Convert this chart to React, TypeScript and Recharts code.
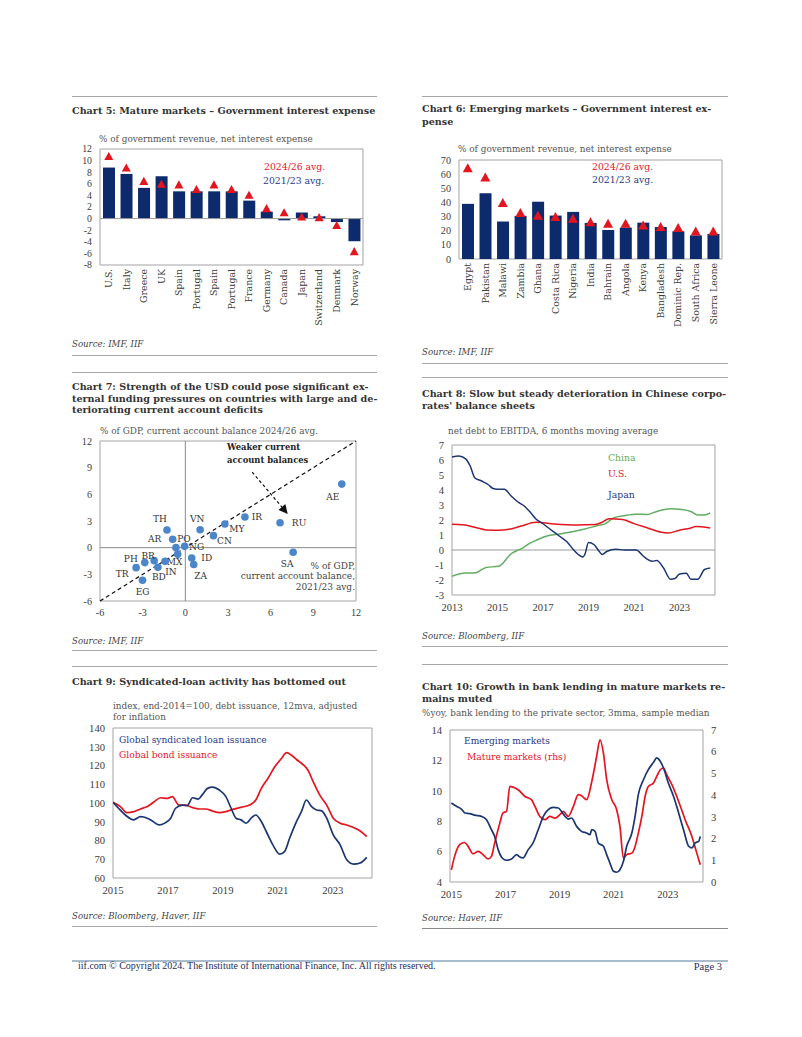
import React from 'react';
import {
  ComposedChart, Bar, Line, XAxis, YAxis, ReferenceLine, ReferenceArea,
  ScatterChart, Scatter, LineChart,
} from 'recharts';

// ---- Chart 5: mature markets, % of government revenue
const c5Countries = ['U.S.', 'Italy', 'Greece', 'UK', 'Spain', 'Portugal', 'Spain', 'Portugal', 'France', 'Germany', 'Canada', 'Japan', 'Switzerland', 'Denmark', 'Norway'];
const c5Avg2123 = [8.8, 7.7, 5.3, 7.3, 4.7, 4.7, 4.7, 4.7, 3.1, 1.2, -0.3, 1.05, 0.4, -0.6, -3.9];
const c5Avg2426 = [10.8, 8.8, 6.5, 6.0, 5.9, 5.1, 5.9, 5.1, 4.1, 1.8, 1.1, 0.35, 0.25, -1.1, -5.6];
const c5Ticks = [-8, -6, -4, -2, 0, 2, 4, 6, 8, 10, 12];

// ---- Chart 6: emerging markets
const c6Countries = ['Egypt', 'Pakistan', 'Malawi', 'Zambia', 'Ghana', 'Costa Rica', 'Nigeria', 'India', 'Bahrain', 'Angola', 'Kenya', 'Bangladesh', 'Dominic Rep.', 'South Africa', 'Sierra Leone'];
const c6Avg2123 = [39, 46.5, 26.5, 30.5, 40.5, 30.7, 33.3, 25.5, 20.5, 22.2, 25.7, 22.6, 19.6, 16.7, 17.7];
const c6Avg2426 = [64.5, 58, 40, 32.8, 31, 30, 28.8, 26.4, 25.2, 25.2, 24.1, 22.9, 22.2, 19.8, 19.8];
const c6Ticks = [0, 10, 20, 30, 40, 50, 60, 70];

// ---- Chart 7: current account balances
const c7Names = ['AE', 'RU', 'IR', 'MY', 'CN', 'VN', 'TH', 'AR', 'PO', 'NG', 'MX', 'ID', 'ZA', 'IN', 'BD', 'BR', 'PH', 'TR', 'EG', 'SA'];
const c7Avg2123 = [11.0, 6.66, 4.19, 2.78, 1.98, 1.04, -1.29, -0.89, -0.66, -0.05, -0.54, 0.45, 0.59, -1.43, -1.93, -2.19, -2.85, -3.46, -3.01, 7.58];
const c7Avg2426 = [7.15, 2.81, 3.45, 2.66, 1.35, 2.02, 1.99, 0.94, 0.0, 0.15, -0.75, -1.16, -1.9, -1.54, -2.2, -1.46, -1.68, -2.25, -3.67, -0.52];
const c7Ticks = [-6, -3, 0, 3, 6, 9, 12];
const c7LabelOffsets: Record<string, [number, number]> = {
  AE: [-9, 13], RU: [19, 0], IR: [12, 0], MY: [12, 5], CN: [11, 5], VN: [-3, -11],
  TH: [-7, -11], AR: [-18, 0], PO: [8, -9], NG: [12, 1], MX: [-3, 8], ID: [15, 0],
  ZA: [7, 11], IN: [6, 11], BD: [1, 10], BR: [-6, -5], PH: [-14, -4], TR: [-14, 6],
  EG: [0, 12], SA: [-6, 12],
};

// ---- Chart 8: net debt to EBITDA
const c8JapanT = [2013.0, 2013.3, 2013.6, 2013.8, 2014.0, 2014.3, 2014.6, 2014.8, 2015.0, 2015.3, 2015.6, 2015.9, 2016.2, 2016.45, 2016.7, 2016.95, 2017.3, 2017.7, 2018.05, 2018.35, 2018.55, 2018.75, 2018.85, 2019.0, 2019.25, 2019.45, 2019.6, 2019.8, 2020.2, 2020.6, 2021.1, 2021.4, 2021.8, 2022.0, 2022.3, 2022.6, 2022.8, 2023.0, 2023.3, 2023.5, 2023.8, 2024.1, 2024.35];
const c8Japan = [6.2, 6.27, 6.08, 5.6, 4.82, 4.6, 4.35, 4.1, 4.05, 4.05, 3.6, 3.2, 2.9, 2.5, 2.05, 1.8, 1.4, 0.95, 0.55, 0.0, -0.3, -0.47, -0.25, 0.5, 0.35, -0.05, -0.3, -0.1, 0.05, 0.0, 0.0, -0.4, -0.75, -0.7, -1.2, -1.95, -1.9, -1.6, -1.55, -1.95, -1.95, -1.3, -1.2];
const c8UsT = [2013.0, 2013.5, 2014.0, 2014.5, 2015.05, 2015.5, 2016.0, 2016.7, 2017.5, 2018.5, 2019.3, 2019.6, 2019.9, 2020.5, 2021.0, 2021.6, 2022.2, 2022.5, 2023.0, 2023.5, 2023.7, 2024.35];
const c8Us = [1.72, 1.68, 1.52, 1.34, 1.32, 1.38, 1.58, 1.85, 1.74, 1.67, 1.7, 1.85, 2.08, 2.03, 1.76, 1.47, 1.18, 1.14, 1.32, 1.47, 1.56, 1.47];
const c8ChinaT = [2013.0, 2013.6, 2014.0, 2014.5, 2015.05, 2015.6, 2016.1, 2016.45, 2016.7, 2017.25, 2017.8, 2018.4, 2018.85, 2019.4, 2019.75, 2020.1, 2020.6, 2021.1, 2021.6, 2021.9, 2022.6, 2023.1, 2023.5, 2023.8, 2024.1, 2024.35];
const c8China = [-1.76, -1.54, -1.54, -1.16, -1.09, -0.25, 0.13, 0.47, 0.65, 0.96, 1.09, 1.25, 1.4, 1.63, 1.76, 2.14, 2.3, 2.39, 2.37, 2.52, 2.75, 2.7, 2.57, 2.34, 2.34, 2.48];
const c8Years = [2013, 2015, 2017, 2019, 2021, 2023];
const c8Ticks = [-3, -2, -1, 0, 1, 2, 3, 4, 5, 6, 7];

// ---- Chart 9: debt issuance index
const c9LoanT = [2015.0, 2015.2, 2015.45, 2015.75, 2016.0, 2016.25, 2016.43, 2016.67, 2016.9, 2017.1, 2017.28, 2017.53, 2017.7, 2017.9, 2018.1, 2018.26, 2018.44, 2018.63, 2018.87, 2019.11, 2019.3, 2019.48, 2019.66, 2019.85, 2020.03, 2020.2, 2020.4, 2020.58, 2020.82, 2021.07, 2021.25, 2021.43, 2021.68, 2021.86, 2022.04, 2022.23, 2022.41, 2022.6, 2022.78, 2023.02, 2023.27, 2023.51, 2023.76, 2024.0, 2024.24];
const c9Loan = [100.4, 97.2, 93.6, 91.0, 92.7, 91.9, 90.4, 88.3, 89.4, 91.9, 97.2, 98.9, 98.6, 102.8, 102.1, 104.6, 107.8, 108.5, 106.9, 103.4, 97.2, 91.9, 91.0, 89.2, 91.9, 93.6, 90.1, 84.8, 77.7, 72.7, 74.2, 81.2, 90.1, 95.4, 101.6, 98.1, 96.3, 95.8, 91.9, 83.0, 77.7, 69.7, 67.4, 68.0, 71.0];
const c9BondT = [2015.0, 2015.27, 2015.5, 2015.76, 2016.0, 2016.25, 2016.5, 2016.73, 2016.98, 2017.16, 2017.4, 2017.65, 2017.9, 2018.14, 2018.38, 2018.63, 2018.87, 2019.11, 2019.36, 2019.66, 2019.97, 2020.2, 2020.4, 2020.64, 2020.89, 2021.13, 2021.32, 2021.5, 2021.68, 2021.92, 2022.1, 2022.29, 2022.53, 2022.78, 2023.02, 2023.27, 2023.51, 2023.76, 2024.0, 2024.24];
const c9Bond = [100.4, 98.1, 94.9, 95.4, 96.8, 98.1, 100.7, 102.8, 102.5, 103.4, 98.9, 98.9, 97.5, 96.8, 96.8, 95.7, 94.9, 95.4, 96.6, 97.7, 98.9, 101.6, 107.8, 113.1, 119.3, 123.7, 126.9, 125.5, 123.2, 120.5, 117.5, 111.3, 104.2, 98.9, 91.9, 89.2, 88.3, 86.9, 85.1, 82.1];
const c9Years = [2015, 2017, 2019, 2021, 2023];
const c9Ticks = [60, 70, 80, 90, 100, 110, 120, 130, 140];

// ---- Chart 10: bank lending growth
const c10EmT = [2015.0, 2015.19, 2015.37, 2015.5, 2015.68, 2015.86, 2016.11, 2016.3, 2016.48, 2016.6, 2016.73, 2016.88, 2017.04, 2017.22, 2017.41, 2017.53, 2017.65, 2017.84, 2018.02, 2018.21, 2018.4, 2018.58, 2018.77, 2018.95, 2019.2, 2019.32, 2019.44, 2019.63, 2019.81, 2020.0, 2020.12, 2020.19, 2020.31, 2020.43, 2020.62, 2020.74, 2020.86, 2020.99, 2021.11, 2021.23, 2021.36, 2021.48, 2021.67, 2021.79, 2021.91, 2022.1, 2022.28, 2022.47, 2022.59, 2022.72, 2022.84, 2023.02, 2023.21, 2023.4, 2023.58, 2023.77, 2023.89, 2024.01, 2024.14, 2024.2];
const c10Em = [9.2, 8.98, 8.8, 8.54, 8.5, 8.4, 8.32, 8.1, 7.44, 7.0, 6.13, 5.58, 5.43, 5.51, 5.8, 5.64, 5.58, 6.13, 6.57, 7.44, 8.32, 8.76, 8.91, 8.87, 8.32, 8.14, 8.21, 7.66, 7.33, 7.22, 7.11, 7.44, 7.33, 6.57, 6.35, 5.8, 5.25, 4.7, 4.64, 4.81, 5.36, 6.35, 7.22, 8.32, 9.75, 10.73, 11.39, 11.87, 12.16, 11.94, 11.5, 10.51, 9.64, 8.54, 7.44, 6.35, 6.24, 6.57, 6.68, 7.0];
const c10MmT = [2015.0, 2015.12, 2015.31, 2015.49, 2015.62, 2015.8, 2015.99, 2016.17, 2016.36, 2016.48, 2016.6, 2016.79, 2016.91, 2017.04, 2017.16, 2017.28, 2017.47, 2017.72, 2017.96, 2018.09, 2018.27, 2018.46, 2018.64, 2018.83, 2019.01, 2019.14, 2019.32, 2019.51, 2019.69, 2019.81, 2020.0, 2020.19, 2020.37, 2020.49, 2020.62, 2020.74, 2020.93, 2021.11, 2021.23, 2021.36, 2021.48, 2021.67, 2021.79, 2021.91, 2022.04, 2022.16, 2022.28, 2022.47, 2022.59, 2022.72, 2022.84, 2022.96, 2023.15, 2023.4, 2023.64, 2023.89, 2024.07, 2024.2];
const c10Mm = [0.56, 1.18, 1.72, 1.82, 1.64, 1.3, 1.41, 1.26, 1.06, 1.18, 1.79, 2.71, 3.18, 3.25, 4.4, 4.37, 4.25, 3.94, 3.79, 3.48, 3.02, 2.87, 3.02, 2.94, 3.1, 3.25, 3.02, 3.48, 4.02, 3.97, 3.79, 4.63, 5.79, 6.55, 5.94, 4.71, 3.79, 3.33, 2.56, 1.1, 1.26, 1.33, 1.64, 2.25, 3.02, 3.94, 4.4, 4.56, 4.86, 5.17, 5.25, 4.94, 4.48, 3.71, 2.87, 2.1, 1.33, 0.79];
const c10Years = [2015, 2017, 2019, 2021, 2023];
const c10LeftTicks = [4, 6, 8, 10, 12, 14];
const c10RightTicks = [0, 1, 2, 3, 4, 5, 6, 7];

// ---- look
const SERIF = '"DejaVu Serif", Georgia, serif';
const NUM = '"Liberation Serif", "Times New Roman", serif';
const NAVY = '#0c2a6c';
const TEXT_NAVY = '#1d3a86';
const LINE_NAVY = '#1b3670';
const RED = '#e3151f';
const GREEN = '#62ad62';
const DOT = '#4a86c8';
const BOX = '#a3a3a3';
const TICK = '#3c3c3c';
const RULE = '#a8a8a8';

const pairs = (t: number[], v: number[]) => t.map((x, i) => ({ t: x, v: v[i] }));

function T({ x, y, size = 9.6, color = '#333', bold, italic, align = 'left', font = SERIF, children }: any) {
  const style: React.CSSProperties = {
    position: 'absolute', top: y - size * 0.6, fontSize: size, lineHeight: `${size}px`,
    color, fontWeight: bold ? 'bold' : 'normal', fontStyle: italic ? 'italic' : 'normal',
    whiteSpace: 'nowrap', fontFamily: font,
  };
  if (align === 'right') style.right = 802 - x; else style.left = x;
  return <div style={style}>{children}</div>;
}

function Rule({ x1, x2, y, color = RULE, w = 1.5 }: any) {
  return <div style={{ position: 'absolute', left: x1, top: y - w / 2, width: x2 - x1, height: 0, borderTop: `${w}px solid ${color}` }} />;
}

const rotTick = (names: string[], size: number) => (p: any) => (
  <text key={p.index} transform={`translate(${p.x},${p.y - 4}) rotate(-90)`} textAnchor="end" dy="0.35em"
    fontSize={size} fill={TICK} fontFamily={SERIF}>
    {names[p.payload.value]}
  </text>
);

const triangle = (w: number) => (p: any) => {
  if (p.cx == null || p.cy == null) return <g key={p.index} />;
  const h = w * 0.9;
  return <path key={p.index} d={`M${p.cx},${p.cy - h / 2} L${p.cx + w / 2},${p.cy + h / 2} L${p.cx - w / 2},${p.cy + h / 2} Z`} fill={RED} />;
};

const tickStyle = (size: number) => ({ fontSize: size, fill: TICK, fontFamily: NUM });

function Chart5() {
  const data = c5Countries.map((name, i) => ({ key: i, name, recent: c5Avg2123[i], outlook: c5Avg2426[i] }));
  return (
    <div style={{ position: 'absolute', left: 60, top: 140 }}>
      <ComposedChart width={320} height={195} data={data} margin={{ top: 9, right: 17, bottom: 0, left: 0 }} barCategoryGap="17%">
        <XAxis dataKey="key" axisLine={false} tickLine={false} interval={0} height={70} tick={rotTick(c5Countries, 9.4)} />
        <YAxis domain={[-8, 12]} ticks={c5Ticks} interval={0} width={40} axisLine={false} tickLine={false} tick={tickStyle(9.8)} />
        <ReferenceArea y1={-8} y2={12} fill="none" stroke={BOX} />
        <ReferenceLine y={0} stroke="#9a9a9a" />
        <Bar dataKey="recent" fill={NAVY} isAnimationActive={false} />
        <Line dataKey="outlook" stroke="none" dot={triangle(9)} activeDot={false} isAnimationActive={false} />
      </ComposedChart>
    </div>
  );
}

function Chart6() {
  const data = c6Countries.map((name, i) => ({ key: i, name, recent: c6Avg2123[i], outlook: c6Avg2426[i] }));
  return (
    <div style={{ position: 'absolute', left: 420, top: 150 }}>
      <ComposedChart width={310} height={190} data={data} margin={{ top: 10, right: 8, bottom: 0, left: 0 }} barCategoryGap="17%">
        <XAxis dataKey="key" axisLine={false} tickLine={false} interval={0} height={81} tick={rotTick(c6Countries, 9.4)} />
        <YAxis domain={[0, 70]} ticks={c6Ticks} interval={0} width={39} axisLine={false} tickLine={false} tick={tickStyle(10.2)} />
        <ReferenceArea y1={0} y2={70} fill="none" stroke={BOX} />
        <Bar dataKey="recent" fill={NAVY} isAnimationActive={false} />
        <Line dataKey="outlook" stroke="none" dot={triangle(10)} activeDot={false} isAnimationActive={false} />
      </ComposedChart>
    </div>
  );
}

const Arrow = (p: any) => {
  const { x1, y1, x2, y2 } = p;
  const a = Math.atan2(y2 - y1, x2 - x1);
  const L = 9, W = 4.5;
  const bx = x2 - L * Math.cos(a), by = y2 - L * Math.sin(a);
  const pts = `${x2},${y2} ${bx - W * Math.sin(a)},${by + W * Math.cos(a)} ${bx + W * Math.sin(a)},${by - W * Math.cos(a)}`;
  return (
    <g>
      <line x1={x1} y1={y1} x2={bx} y2={by} stroke="#111" strokeWidth={1.2} strokeDasharray="3 2.5" />
      <polygon points={pts} fill="#111" />
    </g>
  );
};

const LabeledDot = (p: any) => {
  const off = c7LabelOffsets[p.payload.name] || [0, 0];
  return (
    <g>
      <circle cx={p.cx} cy={p.cy} r={3.8} fill={DOT} />
      <text x={p.cx + off[0]} y={p.cy + off[1]} textAnchor="middle" dominantBaseline="central" fontSize={9} fill="#333" fontFamily={SERIF}>
        {p.payload.name}
      </text>
    </g>
  );
};

function Chart7() {
  const data = c7Names.map((name, i) => ({ name, x: c7Avg2123[i], y: c7Avg2426[i] }));
  return (
    <div style={{ position: 'absolute', left: 60, top: 430 }}>
      <ScatterChart width={316} height={200} margin={{ top: 11, right: 20, bottom: 0, left: 0 }}>
        <XAxis type="number" dataKey="x" domain={[-6, 12]} ticks={c7Ticks} interval={0} height={29} axisLine={false} tickLine={false} tick={tickStyle(10.2)} />
        <YAxis type="number" dataKey="y" domain={[-6, 12]} ticks={c7Ticks} interval={0} width={40} axisLine={false} tickLine={false} tick={tickStyle(10.2)} />
        <ReferenceArea x1={-6} x2={12} y1={-6} y2={12} fill="none" stroke={BOX} />
        <ReferenceLine x={0} stroke="#8a8a8a" />
        <ReferenceLine y={0} stroke="#8a8a8a" />
        <ReferenceLine segment={[{ x: -6, y: -6 }, { x: 12, y: 12 }]} stroke="#111" strokeWidth={1.2} strokeDasharray="4 3" />
        <ReferenceLine segment={[{ x: 4.7, y: 8.5 }, { x: 7.2, y: 3.8 }]} shape={Arrow} />
        <Scatter data={data} shape={LabeledDot} isAnimationActive={false} />
      </ScatterChart>
    </div>
  );
}

function Chart8() {
  return (
    <div style={{ position: 'absolute', left: 415, top: 435 }}>
      <LineChart width={310} height={185} margin={{ top: 10, right: 10, bottom: 0, left: 0 }}>
        <XAxis type="number" dataKey="t" domain={[2013, 2024.56]} ticks={c8Years} interval={0} allowDataOverflow height={25} axisLine={false} tickLine={false} tick={tickStyle(10.6)} />
        <YAxis domain={[-3, 7]} ticks={c8Ticks} interval={0} width={37} axisLine={false} tickLine={false} tick={tickStyle(10.6)} />
        <ReferenceArea y1={-3} y2={7} fill="none" stroke={BOX} />
        <ReferenceLine y={0} stroke="#9a9a9a" />
        <Line data={pairs(c8ChinaT, c8China)} dataKey="v" type="monotone" stroke={GREEN} strokeWidth={1.5} dot={false} isAnimationActive={false} />
        <Line data={pairs(c8UsT, c8Us)} dataKey="v" type="monotone" stroke={RED} strokeWidth={1.5} dot={false} isAnimationActive={false} />
        <Line data={pairs(c8JapanT, c8Japan)} dataKey="v" type="monotone" stroke={LINE_NAVY} strokeWidth={1.5} dot={false} isAnimationActive={false} />
      </LineChart>
    </div>
  );
}

function Chart9() {
  return (
    <div style={{ position: 'absolute', left: 60, top: 718 }}>
      <LineChart width={320} height={185} margin={{ top: 10, right: 8, bottom: 0, left: 0 }}>
        <XAxis type="number" dataKey="t" domain={[2015, 2024.43]} ticks={c9Years} interval={0} allowDataOverflow height={25} axisLine={false} tickLine={false} tick={tickStyle(10.6)} />
        <YAxis domain={[60, 140]} ticks={c9Ticks} interval={0} width={53} axisLine={false} tickLine={false} tick={tickStyle(10.6)} />
        <ReferenceArea y1={60} y2={140} fill="none" stroke={BOX} />
        <Line data={pairs(c9BondT, c9Bond)} dataKey="v" type="monotone" stroke={RED} strokeWidth={1.7} dot={false} isAnimationActive={false} />
        <Line data={pairs(c9LoanT, c9Loan)} dataKey="v" type="monotone" stroke={LINE_NAVY} strokeWidth={1.7} dot={false} isAnimationActive={false} />
      </LineChart>
    </div>
  );
}

function Chart10() {
  return (
    <div style={{ position: 'absolute', left: 415, top: 720 }}>
      <LineChart width={318} height={180} margin={{ top: 10, right: 0, bottom: 0, left: 0 }}>
        <XAxis type="number" dataKey="t" domain={[2014.95, 2024.3]} ticks={c10Years} interval={0} allowDataOverflow height={18} axisLine={false} tickLine={false} tick={tickStyle(10.6)} />
        <YAxis yAxisId="left" domain={[4, 14]} ticks={c10LeftTicks} interval={0} width={35} axisLine={false} tickLine={false} tick={tickStyle(10.6)} />
        <YAxis yAxisId="right" orientation="right" domain={[0, 7]} ticks={c10RightTicks} interval={0} width={30} axisLine={false} tickLine={false} tick={tickStyle(10.6)} />
        <ReferenceArea yAxisId="left" y1={4} y2={14} fill="none" stroke={BOX} />
        <Line yAxisId="right" data={pairs(c10MmT, c10Mm)} dataKey="v" type="monotone" stroke={RED} strokeWidth={1.7} dot={false} isAnimationActive={false} />
        <Line yAxisId="left" data={pairs(c10EmT, c10Em)} dataKey="v" type="monotone" stroke={LINE_NAVY} strokeWidth={1.7} dot={false} isAnimationActive={false} />
      </LineChart>
    </div>
  );
}

export default function App() {
  const L = 72, LR = 377, R = 422, RR = 728;
  const sub = 8.9;
  const src = 8.6;
  return (
    <div style={{ position: 'absolute', left: 0, top: 0, width: 802, height: 1037, background: '#fff', overflow: 'hidden', fontFamily: SERIF }}>
      {/* left column */}
      <Rule x1={L} x2={LR} y={97} />
      <T x={L} y={112} bold>Chart 5: Mature markets – Government interest expense</T>
      <T x={99} y={140} size={sub} color="#555">% of government revenue, net interest expense</T>
      <T x={264} y={168} size={9.3} color={RED}>2024/26 avg.</T>
      <T x={263} y={182} size={9.3} color={TEXT_NAVY}>2021/23 avg.</T>
      <Chart5 />
      <T x={L} y={345} size={src} italic color="#444">Source: IMF, IIF</T>
      <Rule x1={L} x2={LR} y={356} />
      <Rule x1={L} x2={LR} y={373} />

      <T x={L} y={388} bold>Chart 7: Strength of the USD could pose significant ex-</T>
      <T x={L} y={399.5} bold>ternal funding pressures on countries with large and de-</T>
      <T x={L} y={411} bold>teriorating current account deficits</T>
      <T x={100} y={432} size={sub} color="#555">% of GDP, current account balance 2024/26 avg.</T>
      <Chart7 />
      <T x={227} y={448} size={8.4} bold color="#222">Weaker current</T>
      <T x={227} y={461} size={8.4} bold color="#222">account balances</T>
      <T x={355} y={567} size={9} align="right" color="#444">% of GDP,</T>
      <T x={355} y={577.5} size={9} align="right" color="#444">current account balance,</T>
      <T x={355} y={588} size={9} align="right" color="#444">2021/23 avg.</T>
      <T x={L} y={642} size={src} italic color="#444">Source: IMF, IIF</T>
      <Rule x1={L} x2={LR} y={651} />
      <Rule x1={L} x2={LR} y={667} />

      <T x={L} y={683} bold>Chart 9: Syndicated-loan activity has bottomed out</T>
      <T x={113} y={707} size={sub} color="#555">index, end-2014=100, debt issuance, 12mva, adjusted</T>
      <T x={113} y={718} size={sub} color="#555">for inflation</T>
      <Chart9 />
      <T x={119} y={741} size={9.1} color={TEXT_NAVY}>Global syndicated loan issuance</T>
      <T x={119} y={756} size={9.1} color={RED}>Global bond issuance</T>
      <T x={L} y={917} size={src} italic color="#444">Source: Bloomberg, Haver, IIF</T>
      <Rule x1={L} x2={LR} y={927} />

      {/* right column */}
      <Rule x1={R} x2={RR} y={97} />
      <T x={R} y={110} bold>Chart 6: Emerging markets – Government interest ex-</T>
      <T x={R} y={123} bold>pense</T>
      <T x={458} y={150} size={sub} color="#555">% of government revenue, net interest expense</T>
      <T x={592} y={168} size={9.3} color={RED}>2024/26 avg.</T>
      <T x={592} y={181} size={9.3} color={TEXT_NAVY}>2021/23 avg.</T>
      <Chart6 />
      <T x={R} y={353} size={src} italic color="#444">Source: IMF, IIF</T>
      <Rule x1={R} x2={RR} y={364} />
      <Rule x1={R} x2={RR} y={378} />

      <T x={R} y={395} bold>Chart 8: Slow but steady deterioration in Chinese corpo-</T>
      <T x={R} y={407} bold>rates' balance sheets</T>
      <T x={448} y={432} size={sub} color="#555">net debt to EBITDA, 6 months moving average</T>
      <Chart8 />
      <T x={608} y={459} size={9.3} color={GREEN}>China</T>
      <T x={608} y={475} size={9.3} color={RED}>U.S.</T>
      <T x={608} y={496} size={9.3} color={TEXT_NAVY}>Japan</T>
      <T x={R} y={637} size={src} italic color="#444">Source: Bloomberg, IIF</T>
      <Rule x1={R} x2={RR} y={647} />
      <Rule x1={R} x2={RR} y={665} />

      <T x={R} y={688} bold>Chart 10: Growth in bank lending in mature markets re-</T>
      <T x={R} y={700} bold>mains muted</T>
      <T x={R} y={714} size={sub} color="#555">%yoy, bank lending to the private sector, 3mma, sample median</T>
      <Chart10 />
      <T x={464} y={742} size={9.1} color={TEXT_NAVY}>Emerging markets</T>
      <T x={467} y={758} size={9.1} color={RED}>Mature markets (rhs)</T>
      <T x={R} y={919} size={src} italic color="#444">Source: Haver, IIF</T>
      <Rule x1={R} x2={RR} y={929} color="#888" />

      {/* footer */}
      <Rule x1={L} x2={RR} y={961} color="#a9bccd" w={2} />
      <T x={78} y={967} size={10} font={NUM} color="#1f2d5a">iif.com © Copyright 2024. The Institute of International Finance, Inc. All rights reserved.</T>
      <T x={722} y={968} size={10.5} font={NUM} align="right" color="#1f2d5a">Page 3</T>
    </div>
  );
}
